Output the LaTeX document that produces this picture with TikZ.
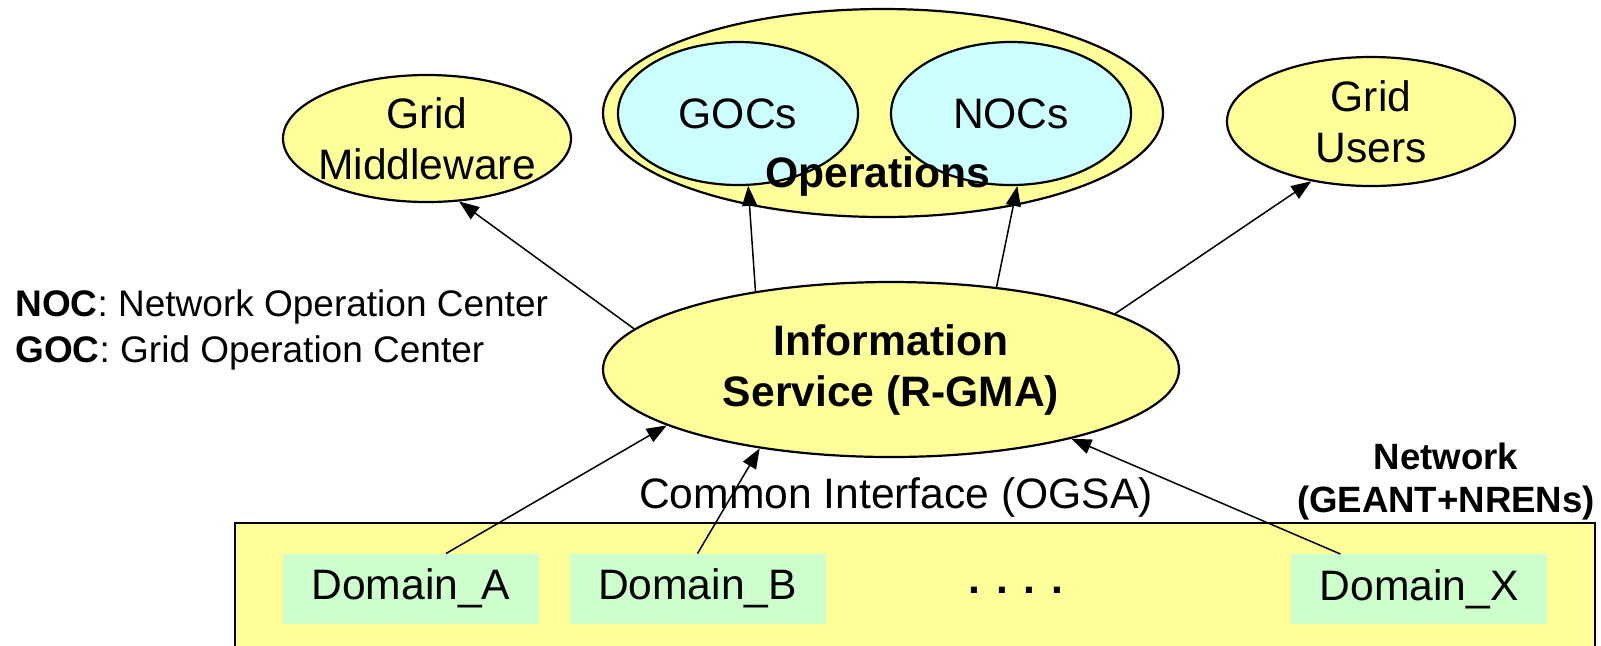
\documentclass[tikz,border=0pt]{standalone}
\usepackage{fontspec}
\setmainfont{Liberation Sans}
\usepackage{tikz}
\usetikzlibrary{positioning,shapes,arrows.meta}
\definecolor{softyellow}{RGB}{255,255,153}
\definecolor{softcyan}{RGB}{204,255,255}
\definecolor{softgreen}{RGB}{204,255,204}
\newcommand{\sizeM}{\fontsize{21.3}{25.5}\selectfont}
\newcommand{\sizeL}{\fontsize{18.5}{23}\selectfont}
\newcommand{\sizeN}{\fontsize{18.3}{21.5}\selectfont}
\tikzset {
    style oval/.style={
        fill=softyellow,
        draw=black,
        line width=1.1pt,
        ellipse, % Set the shape as an ellipse
        inner sep=-10pt,
        align=center,
        font=\sizeM,
    },
    style inner/.style={
        style oval,
        fill=softcyan,
    },
    style domain/.style={
        fill=softgreen,
        rectangle, % Set the shape as a rectangle
        minimum width=128pt,
        minimum height=35pt,
        outer sep=0pt,
        font=\sizeM,
    },
    style net/.style={
        fill=softyellow,
        draw=black,
        line width=1.1pt,
        rectangle, % Set the shape as a rectangle
        minimum width=680pt,
        minimum height=63.5pt,
    },
    style link/.style={
        -{Triangle[length=10pt,width=7.5pt]},
        line width=0.75pt,
    },
}

\begin{document}
\begin{tikzpicture}
        [x=0.5pt, y=-0.5pt]
        \useasboundingbox (0,0) rectangle (1601,645);
        % network layer
        \node[style net] (net) at (915,586.5) {};
        \node[font=\sizeN\bfseries, align=center, inner sep=0pt] (netlabel) at (1446,482) {Network\\(GEANT+NRENs)};
        \node[style domain] (da) at (411,588.5) {Domain\_A};
        \node[style domain] (db) at (697.5,588.5) {Domain\_B};
        \node[style domain] (dx) at (1419,589) {Domain\_X};
        \node[font=\sizeM\bfseries] (dots) at (1016,590) {. . . .};
        \node[font=\sizeM, inner sep=0pt] (ogsa) at (896,497) {Common Interface (OGSA)};
        % operations
        \node[style oval, minimum width=280pt, minimum height=104pt] (ops) at (883,113) {};
        \node[style inner, minimum width=120pt, minimum height=71.5pt] (gocs) at (738,113.5) {GOCs};
        \node[style inner, minimum width=120pt, minimum height=71.5pt] (nocs) at (1011,113.5) {NOCs};
        \node[font=\sizeM\bfseries, inner sep=0pt] (opslabel) at (878,176) {Operations};
        % the other ovals
        \node[style oval, minimum width=144pt, minimum height=63.5pt] (gm) at (427,138.5) {Grid\\Middleware};
        \node[style oval, minimum width=144pt, minimum height=64.5pt] (users) at (1371,121.5) {Grid\\Users};
        \node[style oval, font=\sizeM\bfseries, minimum width=288pt, minimum height=87.5pt] (info) at (891,369.5) {Information\\Service (R-GMA)};
        \node[font=\sizeL, align=left, anchor=west, inner sep=0pt] (legend) at (15,330) {\textbf{NOC}: Network Operation Center\\\textbf{GOC}: Grid Operation Center};
        % arrows
        \draw[style link] (info.171.5) -- (gm.297.5);
        \draw[style link] (info.150.8) -- (gocs.278);
        \draw[style link] (info.38) -- (nocs.275);
        \draw[style link] (info.14.2) -- (users.225.7);
        \draw[style link] (da.45) -- (info.194.3);
        \draw[style link] (db.north) -- (info.211.5);
        \draw[style link] (dx.156.4) -- (info.339.5);
    \end{tikzpicture}
\end{document}
